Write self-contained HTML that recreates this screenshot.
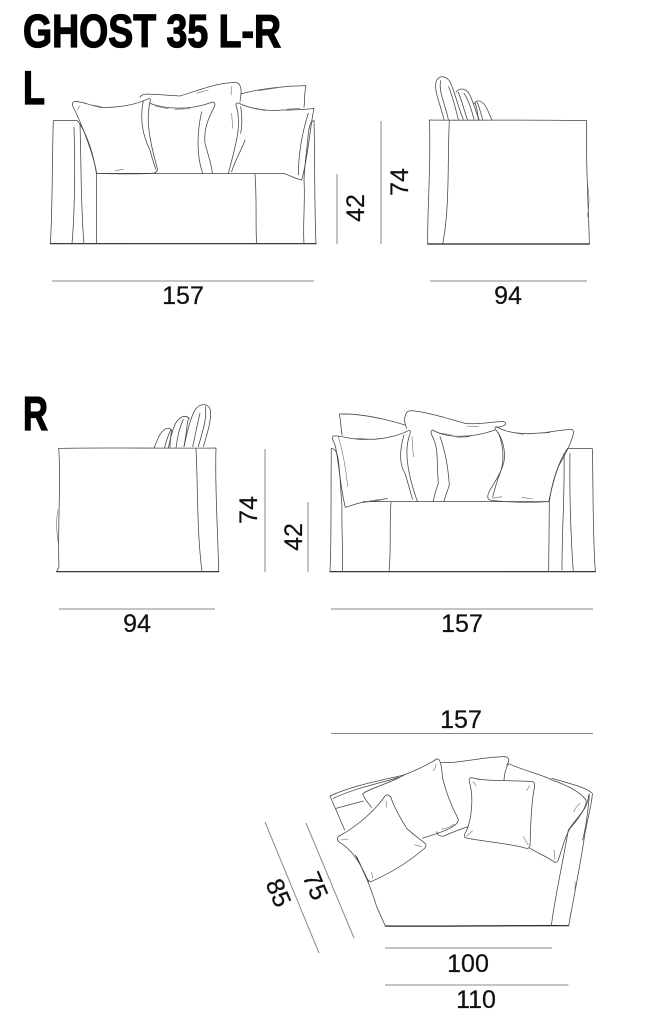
<!DOCTYPE html>
<html><head><meta charset="utf-8">
<style>
html,body{margin:0;padding:0;background:#fff;width:646px;height:1024px;overflow:hidden}
svg{display:block}
text{font-family:"Liberation Sans",Arial,sans-serif;fill:#111}
.n{font-size:25px;text-anchor:middle;stroke:#111;stroke-width:.25}
.d{stroke:#8a8a8a;stroke-width:1;fill:none}
.s path{fill:none;stroke:#444;stroke-width:2.3;stroke-linecap:round;stroke-linejoin:round}
.s path.t{stroke-width:1.7;stroke:#666}
.s path.b{stroke-width:3.6;stroke:#222}
</style></head><body>
<svg width="646" height="1024" viewBox="0 0 646 1024" xmlns="http://www.w3.org/2000/svg">
<rect width="646" height="1024" fill="#fff"/>
<text x="23" y="47" font-size="46" font-weight="700" textLength="258" lengthAdjust="spacingAndGlyphs" stroke="#000" stroke-width="1.3" style="fill:#000">GHOST 35 L-R</text>
<text x="23" y="104" font-size="47" font-weight="700" textLength="22" lengthAdjust="spacingAndGlyphs" stroke="#000" stroke-width="1.3" style="fill:#000">L</text>
<text x="23" y="430" font-size="47" font-weight="700" textLength="25" lengthAdjust="spacingAndGlyphs" stroke="#000" stroke-width="1.3" style="fill:#000">R</text>

<!-- L front -->
<g class="s" transform="scale(.33333)">
<path class="b" d="M151,731 L948,731"/>
<path d="M232,362 L160,362 C156,480 158,620 151,731"/>
<path d="M942,362 C930,365 928,380 925,400 C922,440 914,490 912,540 C916,600 908,680 912,731"/>
<path d="M942,362 C945,480 943,620 948,731"/>
<path d="M222,382 C226,500 224,640 216,731"/>
<path d="M240,372 C244,500 242,620 252,731"/>
<path d="M232,362 C262,400 282,470 289,520 L290,731"/>
<path d="M289,520 L850,520"/>
<path d="M765,522 C771,600 766,680 770,731"/>
<path d="M224,305 C240,302 270,316 300,322 C340,324 400,318 445,296 C452,296 452,300 450,306 C440,350 442,400 472,505 C474,515 465,520 455,520 C420,522 360,522 290,520 C280,460 240,360 218,318 C216,310 218,306 224,305Z"/>
<path d="M430,302 C420,350 425,400 450,450 C458,480 462,495 468,508"/>
<path class="t" d="M278,315 L305,320 M345,512 L370,508 M240,318 L232,330"/>
<path d="M420,292 C425,275 470,285 540,288 C600,270 660,245 710,248 C730,255 722,290 720,305"/>
<path d="M450,310 C490,325 560,335 638,306 C646,306 646,315 642,322 C628,350 610,385 615,430 C625,470 635,490 637,520"/>
<path d="M605,335 C590,400 590,470 608,520"/>
<path class="t" d="M465,318 L505,326 M525,328 L570,326 M695,260 L693,285 M695,340 L698,385 M590,280 L625,270"/>
<path d="M708,315 C708,306 715,308 722,312 C750,325 800,335 845,330 C880,330 920,328 942,325 C930,380 925,470 905,540 C880,535 870,525 850,520"/>
<path d="M708,315 C725,370 712,420 685,520"/>
<path d="M735,420 C725,450 705,480 695,515 M722,320 C728,350 725,385 722,400"/>
<path d="M925,340 C905,400 895,470 895,525"/>
<path d="M722,282 C780,265 860,258 918,257 C912,280 915,300 912,322"/>
<path class="t" d="M770,325 L795,332 M860,328 L900,325 M775,272 L830,264"/>
</g>
<path class="d" d="M52,281H314"/>
<text class="n" x="183" y="304">157</text>

<!-- L side -->
<g class="s" transform="translate(330,60) scale(.33333)">
<path class="b" d="M293,552 L778,552"/>
<path d="M298,180 C440,182 620,178 770,182 C766,300 776,440 778,550"/>
<path d="M298,180 C304,300 292,440 293,550"/>
<path d="M358,182 C352,300 360,440 338,552"/>
<path class="t" d="M772,370 C780,410 778,440 772,470"/>
<path d="M342,178 C330,130 312,95 318,65 C325,48 342,44 358,62 C372,85 385,145 400,178"/>
<path d="M355,178 C345,130 325,95 332,62 M385,178 C375,140 368,110 356,80"/>
<path d="M378,97 C390,80 412,85 422,110 C432,135 440,160 447,178"/>
<path d="M412,178 C402,150 395,120 385,97 M432,178 C425,150 415,120 402,100"/>
<path d="M432,130 C448,112 465,130 475,155 L486,180"/>
<path d="M445,178 C443,160 440,140 435,128 M458,178 C452,160 448,140 442,128"/>
</g>
<path class="d" d="M337,174V244M381,121V244M430,281H587"/>
<text class="n" transform="translate(364,208) rotate(-90)">42</text>
<text class="n" transform="translate(408,182) rotate(-90)">74</text>
<text class="n" x="508" y="304">94</text>

<!-- R side -->
<g class="s" transform="translate(0,380) scale(.33333)">
<path class="b" d="M170,575 L656,575"/>
<path d="M176,205 C320,202 500,206 648,204 C644,320 654,460 656,573"/>
<path d="M176,205 C184,300 172,440 177,560 L170,575"/>
<path d="M588,206 C594,320 590,450 606,575"/>
<path class="t" d="M174,390 C168,420 170,460 175,490"/>
<path d="M610,200 C622,160 636,115 631,88 C622,70 600,68 585,90 C570,115 560,165 552,200"/>
<path d="M595,200 C605,160 622,120 616,80 M578,200 C585,170 590,140 600,100"/>
<path d="M568,115 C552,100 532,115 522,140 C515,160 510,180 505,204"/>
<path d="M552,200 C558,170 560,140 565,115 M528,204 C532,170 540,140 550,118"/>
<path d="M515,150 C500,135 482,155 472,180 L462,204"/>
<path d="M494,204 C498,180 506,165 512,150 M510,204 C510,185 512,170 515,150"/>
</g>
<path class="d" d="M59,609H215M265,449V572M308,502V572"/>
<text class="n" x="137" y="632">94</text>
<text class="n" transform="translate(257,510) rotate(-90)">74</text>
<text class="n" transform="translate(302,537) rotate(-90)">42</text>

<!-- R front -->
<g class="s" transform="translate(310,390) scale(.33333)">
<path class="b" d="M60,545 L856,545"/>
<path d="M772,176 L847,176 C850,300 848,440 856,545"/>
<path d="M64,176 C62,300 65,440 60,545"/>
<path d="M64,176 C75,175 82,190 85,210 C90,250 92,300 96,350 C94,420 100,480 97,545"/>
<path d="M772,176 C745,215 725,280 718,335 L716,545"/>
<path d="M762,190 C765,300 755,440 756,540"/>
<path d="M780,190 C778,300 782,440 790,545"/>
<path d="M160,335 L718,335"/>
<path d="M243,337 C238,400 244,480 237,545"/>
<path d="M70,138 C90,135 125,150 160,148 C210,150 260,140 295,122 C302,120 302,126 300,132 C285,170 285,230 322,334"/>
<path d="M70,138 C62,142 70,150 75,165 C85,200 90,290 106,352 C130,345 150,335 190,334 L232,325"/>
<path d="M282,135 C268,180 268,225 285,250 C295,280 300,305 308,328"/>
<path class="t" d="M85,140 C100,190 108,240 113,290 M140,145 L185,148 M215,146 L250,138 M180,332 L232,326"/>
<path d="M96,135 C92,110 92,88 88,72 C150,70 220,85 285,105"/>
<path d="M290,115 C278,90 285,65 300,62 C350,65 410,85 465,100 C500,105 550,95 580,94 C592,100 590,108 560,112"/>
<path d="M368,120 C400,140 470,150 555,120"/>
<path d="M368,120 C358,122 365,135 372,150 C385,180 380,220 385,280 C378,300 372,320 370,334"/>
<path d="M390,140 C408,190 415,240 418,285 C412,305 405,320 402,334"/>
<path class="t" d="M306,140 L310,200 M470,108 L505,110 M395,130 L425,135 M440,142 L480,140"/>
<path d="M560,110 C590,130 650,135 700,128 C730,125 760,118 785,118 C794,122 790,135 785,148 C770,190 755,210 745,230 C730,270 722,310 716,335 C670,338 590,338 540,330 C530,326 532,315 540,300 C555,275 575,245 582,215 C588,170 572,135 556,118 C554,112 556,110 560,110Z"/>
<path d="M566,130 C585,180 580,225 570,250 C558,280 552,305 548,322"/>
<path class="t" d="M610,128 L640,133 M670,130 L720,128 M635,322 L668,327 M548,325 L575,320"/>
</g>
<path class="d" d="M331,609H593"/>
<text class="n" x="462" y="632">157</text>

<!-- Plan -->
<g class="s" transform="translate(250,700) scale(.33333)">
<path class="b" d="M406,678 C560,680 780,676 956,677"/>
<path d="M240,288 C310,255 400,240 462,225"/>
<path d="M250,295 C320,262 400,248 445,232"/>
<path d="M240,288 L284,390"/>
<path d="M258,325 L340,303"/>
<path d="M316,465 C340,510 365,570 380,620 L406,678"/>
<path d="M320,470 C335,500 345,530 356,545"/>
<path d="M1025,278 C1005,262 960,250 905,235"/>
<path d="M1027,280 C1028,300 1015,345 1005,400 C990,500 970,600 956,677"/>
<path d="M1016,285 C1012,330 990,340 955,390 C940,480 915,590 904,677"/>
<path d="M1018,282 C1014,340 1008,380 998,420"/>
<path class="t" d="M975,545 C978,580 968,610 960,650"/>
<path d="M338,282 C350,268 420,250 462,225 C500,210 540,190 560,177 C570,174 574,190 578,235 C590,285 605,320 625,358 C625,375 600,390 518,414"/>
<path d="M338,282 C345,300 358,312 364,322"/>
<path class="t" d="M550,212 C555,205 558,198 558,192 M612,372 C600,382 590,385 575,388"/>
<path d="M574,187 C620,192 700,170 765,170 C780,172 778,185 770,195"/>
<path d="M560,395 C562,405 570,410 582,408 C600,400 630,388 655,380"/>
<path d="M776,191 C830,215 880,225 905,240 C950,255 990,275 1008,300 C1012,310 1000,340 960,385 C945,410 935,450 925,480 C920,490 915,488 910,484 C890,470 865,460 840,445"/>
<path d="M776,191 C766,205 763,225 762,240"/>
<path class="t" d="M990,310 C980,318 975,325 972,335 M912,450 L915,478"/>
<path d="M665,233 C700,245 790,240 848,245 C856,248 854,258 852,270 C842,320 842,390 840,438 C838,446 832,446 825,444 C780,430 700,425 650,414 C640,412 642,405 648,395 C665,360 672,290 658,245 C656,236 660,232 665,233Z"/>
<path class="t" d="M670,245 L678,258 M838,258 L830,272 M650,408 L668,392 M820,410 L835,435"/>
<path d="M268,408 C310,385 370,340 405,288 C412,282 418,284 423,293 C430,315 445,345 470,385 C490,405 515,420 527,432 C530,438 525,445 518,450 C470,490 420,520 365,544 C358,546 352,540 348,528 C335,500 310,450 270,428 C260,422 260,412 268,408Z"/>
<path class="t" d="M408,302 L410,322 M272,420 L295,417 M494,434 L515,440 M365,518 L368,535"/>
</g>
<path class="d" d="M331,733.5H593M385,948H552M385,985H568.5M265,822L319,953M306,823L354,938"/>
<text class="n" x="461" y="728">157</text>
<text class="n" x="468" y="972">100</text>
<text class="n" x="476" y="1008">110</text>
<text class="n" transform="translate(315,886) rotate(67)" dominant-baseline="central">75</text>
<text class="n" transform="translate(278,893) rotate(67)" dominant-baseline="central">85</text>
</svg>
</body></html>
